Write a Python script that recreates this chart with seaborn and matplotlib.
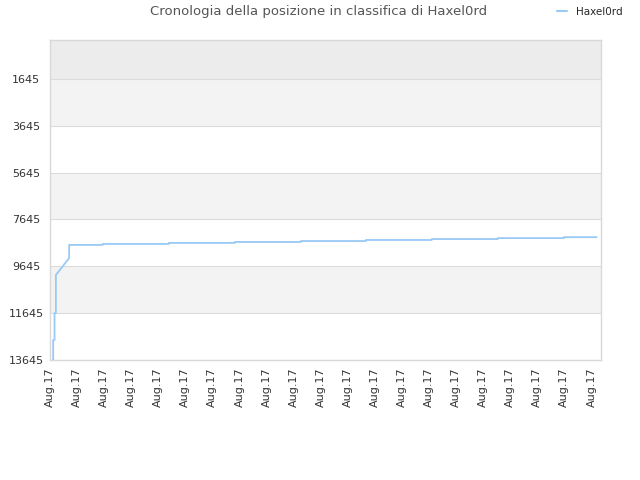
import numpy as np
import pandas as pd
import matplotlib
matplotlib.use("Agg")
import matplotlib.pyplot as plt
import seaborn as sns

# position along the time axis (in tick units) and ranking
t = [0.12, 0.12, 0.17, 0.17, 0.22, 0.22, 0.71, 0.71,
     1.95, 1.95, 4.39, 4.39, 6.83, 6.83, 9.27, 9.27,
     11.67, 11.67, 14.10, 14.10, 16.54, 16.54, 18.98, 18.98, 20.19]
rank = [13645, 12790, 12790, 11640, 11640, 10015, 9290, 8730,
        8730, 8690, 8690, 8645, 8645, 8605, 8605, 8565,
        8565, 8520, 8520, 8480, 8480, 8440, 8440, 8400, 8400]
tick_labels = ["Aug.17"] * 21
y_ticks = [1645, 3645, 5645, 7645, 9645, 11645, 13645]

df = pd.DataFrame({"t": t, "rank": rank, "player": "Haxel0rd"})

sns.set_style("white")
plt.rcParams['font.family'] = ['DejaVu Sans']

fig = plt.figure(figsize=(6.4, 4.8), dpi=100)
ax = fig.add_axes([0.078, 0.25, 0.861, 0.6667])

# alternating bands
top = -20
ax.axhspan(top, y_ticks[0], color="#ececec", zorder=0, lw=0)
for i in range(len(y_ticks) - 1):
    if i % 2 == 0:
        ax.axhspan(y_ticks[i], y_ticks[i + 1], color="#f3f3f3", zorder=0, lw=0)
for yt in y_ticks:
    ax.axhline(yt, color="#dcdcdc", lw=0.8, zorder=1)

sns.lineplot(data=df, x="t", y="rank", sort=False, estimator=None,
             color="#99c9f5", lw=1.3, ax=ax, legend=False, zorder=3)

ax.set_xlim(0, 20.35)
ax.set_ylim(13645, top)
ax.set_yticks(y_ticks)
ax.set_yticklabels([str(v) for v in y_ticks], fontsize=8, color="#333333", ha="center")
ax.set_xticks(range(len(tick_labels)))
ax.set_xticklabels(tick_labels, rotation=90, fontsize=8, color="#333333")
ax.tick_params(axis="x", length=0, pad=5)
ax.tick_params(axis="y", length=0, pad=17)
ax.set_xlabel("")
ax.set_ylabel("")
for s in ax.spines.values():
    s.set_color("#d8d8d8")
    s.set_linewidth(1)

fig.text(0.497, 0.975, "Cronologia della posizione in classifica di Haxel0rd",
         ha="center", va="center", fontsize=9.5, color="#555555")
h = plt.Line2D([], [], color="#99c9f5", lw=1.5)
fig.legend([h], ["Haxel0rd"], loc="center left", bbox_to_anchor=(0.855, 0.975),
           frameon=False, fontsize=7.5, handlelength=1.0, handletextpad=0.9)

fig.savefig("out.png", dpi=100)
